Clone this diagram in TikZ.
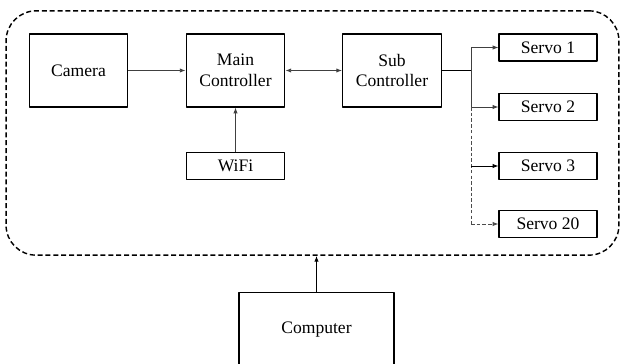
\documentclass[tikz,border=0pt]{standalone}
\usepackage{fontspec}
\setmainfont{Liberation Serif}
\usetikzlibrary{arrows.meta}

\begin{document}
\begin{tikzpicture}[
  x=0.7pt, y=-0.7pt, % one reference pixel
  font=\fontsize{12.3}{14.5}\selectfont,
  block/.style={draw, line width=0.9pt, align=center, inner sep=1pt,
    minimum width=69pt, minimum height=51pt},
  servo/.style={draw, line width=0.9pt, inner sep=1pt,
    minimum width=68.5pt, minimum height=19pt},
  frame/.style={draw, line width=1pt, dash pattern=on 3.5pt off 2pt,
    rounded corners=21pt, minimum width=429pt, minimum height=171pt},
  link/.style={line width=0.6pt, black!75, -{Latex[length=4pt,width=3pt]}},
  dashlink/.style={line width=0.6pt, black!70, dash pattern=on 2.5pt off 1.5pt},
  line join=round
]
  % ---- page size ----
  \useasboundingbox (0,0) rectangle (622,363);

  % ---- outer dashed frame ----
  \node[frame] (frame) at (312.5,133) {};

  % ---- blocks ----
  \node[block] (camera) at (78.5,70.5) {Camera};
  \node[block] (main) at (235.5,70.5) {Main\\Controller};
  \node[block] (sub) at (392,70.5) {Sub\\Controller};
  \node[servo] (wifi) at (235.5,166) {WiFi};

  % servos
  \node[servo] (s1) at (548,47.5) {Servo 1};
  \node[servo] (s2) at (548,107) {Servo 2};
  \node[servo] (s3) at (548,166) {Servo 3};
  \node[servo] (s20) at (548,224) {Servo 20};

  \node[block, minimum width=108.5pt, minimum height=53pt] (computer) at (316.5,330) {Computer};

  % ---- connections ----
  \draw[link] (camera) -- (main);
  \draw[link, {Latex[length=4pt,width=3pt]}-{Latex[length=4pt,width=3pt]}] (main) -- (sub);
  \draw[link] (wifi) -- (main);

  % bus to the servos
  \coordinate (bus) at (471,70.5);
  \draw[line width=1pt] (sub.east) -- (bus);
  \draw[link] (bus) |- (s1);
  \draw[link] (bus) |- (s2);
  \draw[dashlink] (bus |- s2) -- (bus |- s20);
  \draw[link, black] (bus |- s3) -- (s3);
  \draw[link, dashlink, -{Latex[length=4pt,width=3pt]}] (bus |- s20) -- (s20);

  % computer to the robot
  \draw[link, black] (computer) -- (computer |- frame.south);
\end{tikzpicture}
\end{document}
